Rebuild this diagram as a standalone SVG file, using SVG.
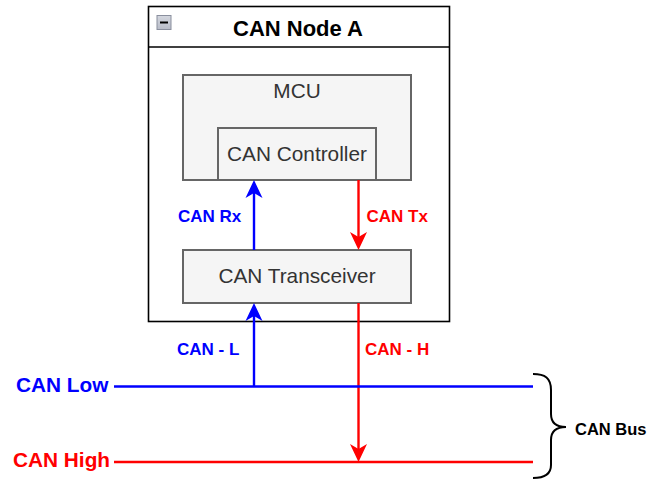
<svg xmlns="http://www.w3.org/2000/svg" width="657" height="493" viewBox="0 0 657 493">
<style>
  .box { fill:#f5f5f5; stroke:#666666; stroke-width:2; }
  .boxtext { font-family:"Liberation Sans", Arial, sans-serif; font-size:20.8px; fill:#333333; text-anchor:middle; }
  .lbl { font-family:"Liberation Sans", Arial, sans-serif; font-weight:bold; font-size:17px; }
  .big { font-family:"Liberation Sans", Arial, sans-serif; font-weight:bold; font-size:20.8px; }
  .blue { fill:#0000ff; }
  .red { fill:#ff0000; }
  .wb { stroke:#0000ff; stroke-width:2.4; fill:none; }
  .wr { stroke:#ff0000; stroke-width:2.4; fill:none; }
</style>
<defs>
  <marker id="arrB" viewBox="0 0 18 18" refX="5" refY="9" markerWidth="18" markerHeight="18" markerUnits="userSpaceOnUse" orient="auto">
    <path d="M18,9 L0,0.5 L5,9 L0,17.5 Z" fill="#0000ff"/>
  </marker>
  <marker id="arrR" viewBox="0 0 18 18" refX="5" refY="9" markerWidth="18" markerHeight="18" markerUnits="userSpaceOnUse" orient="auto">
    <path d="M18,9 L0,0.5 L5,9 L0,17.5 Z" fill="#ff0000"/>
  </marker>
  <linearGradient id="icon" x1="0" y1="0" x2="0" y2="1">
    <stop offset="0" stop-color="#d4d7df"/>
    <stop offset="1" stop-color="#b8bcc8"/>
  </linearGradient>
</defs>

<g id="node-a">
  <rect x="148.5" y="6.5" width="301" height="315" fill="#ffffff" stroke="#000000" stroke-width="1.6"/>
  <line x1="148.5" y1="47" x2="449.5" y2="47" stroke="#000000" stroke-width="1.6"/>
  <rect x="157" y="15.5" width="14" height="14" fill="url(#icon)" stroke="#8a8f9e" stroke-width="1"/>
  <line x1="160" y1="22.5" x2="168" y2="22.5" stroke="#000000" stroke-width="2"/>
  <text x="298" y="36" font-family="Liberation Sans, Arial, sans-serif" font-weight="bold" font-size="22" text-anchor="middle" fill="#000000">CAN Node A</text>
</g>

<g id="mcu">
  <rect class="box" x="183" y="75" width="228" height="105"/>
  <text class="boxtext" x="297" y="98">MCU</text>
</g>

<g id="can-controller">
  <rect class="box" x="218" y="128" width="158" height="52"/>
  <text class="boxtext" x="297" y="161">CAN Controller</text>
</g>

<g id="can-transceiver">
  <rect class="box" x="183" y="250" width="228" height="53"/>
  <text class="boxtext" x="297" y="283">CAN Transceiver</text>
</g>

<g id="connectors">
  <line class="wb" x1="254" y1="250" x2="254" y2="193" marker-end="url(#arrB)"/>
  <line class="wr" x1="358.5" y1="180" x2="358.5" y2="237" marker-end="url(#arrR)"/>
  <line class="wb" x1="254" y1="387" x2="254" y2="316" marker-end="url(#arrB)"/>
  <line class="wr" x1="358.5" y1="303" x2="358.5" y2="449" marker-end="url(#arrR)"/>
  <line class="wb" x1="114" y1="386.5" x2="533" y2="386.5"/>
  <line class="wr" x1="114" y1="462" x2="533" y2="462"/>
  <text class="lbl blue" x="178" y="222">CAN Rx</text>
  <text class="lbl red" x="366.5" y="222">CAN Tx</text>
  <text class="lbl blue" x="177" y="355">CAN - L</text>
  <text class="lbl red" x="365" y="355">CAN - H</text>
</g>

<g id="can-low">
  <text class="big blue" x="16" y="392">CAN Low</text>
</g>
<g id="can-high">
  <text class="big red" x="13" y="467">CAN High</text>
</g>

<g id="can-bus">
  <path d="M533,374 C545,374 551,378 551,390 L551,414 C551,422 555,427 566,427 C555,427 551,432 551,440 L551,465 C551,474 545,478 533,478" fill="none" stroke="#000000" stroke-width="2"/>
  <text x="575" y="435" font-family="Liberation Sans, Arial, sans-serif" font-weight="bold" font-size="16.5" fill="#000000">CAN Bus</text>
</g>
</svg>
